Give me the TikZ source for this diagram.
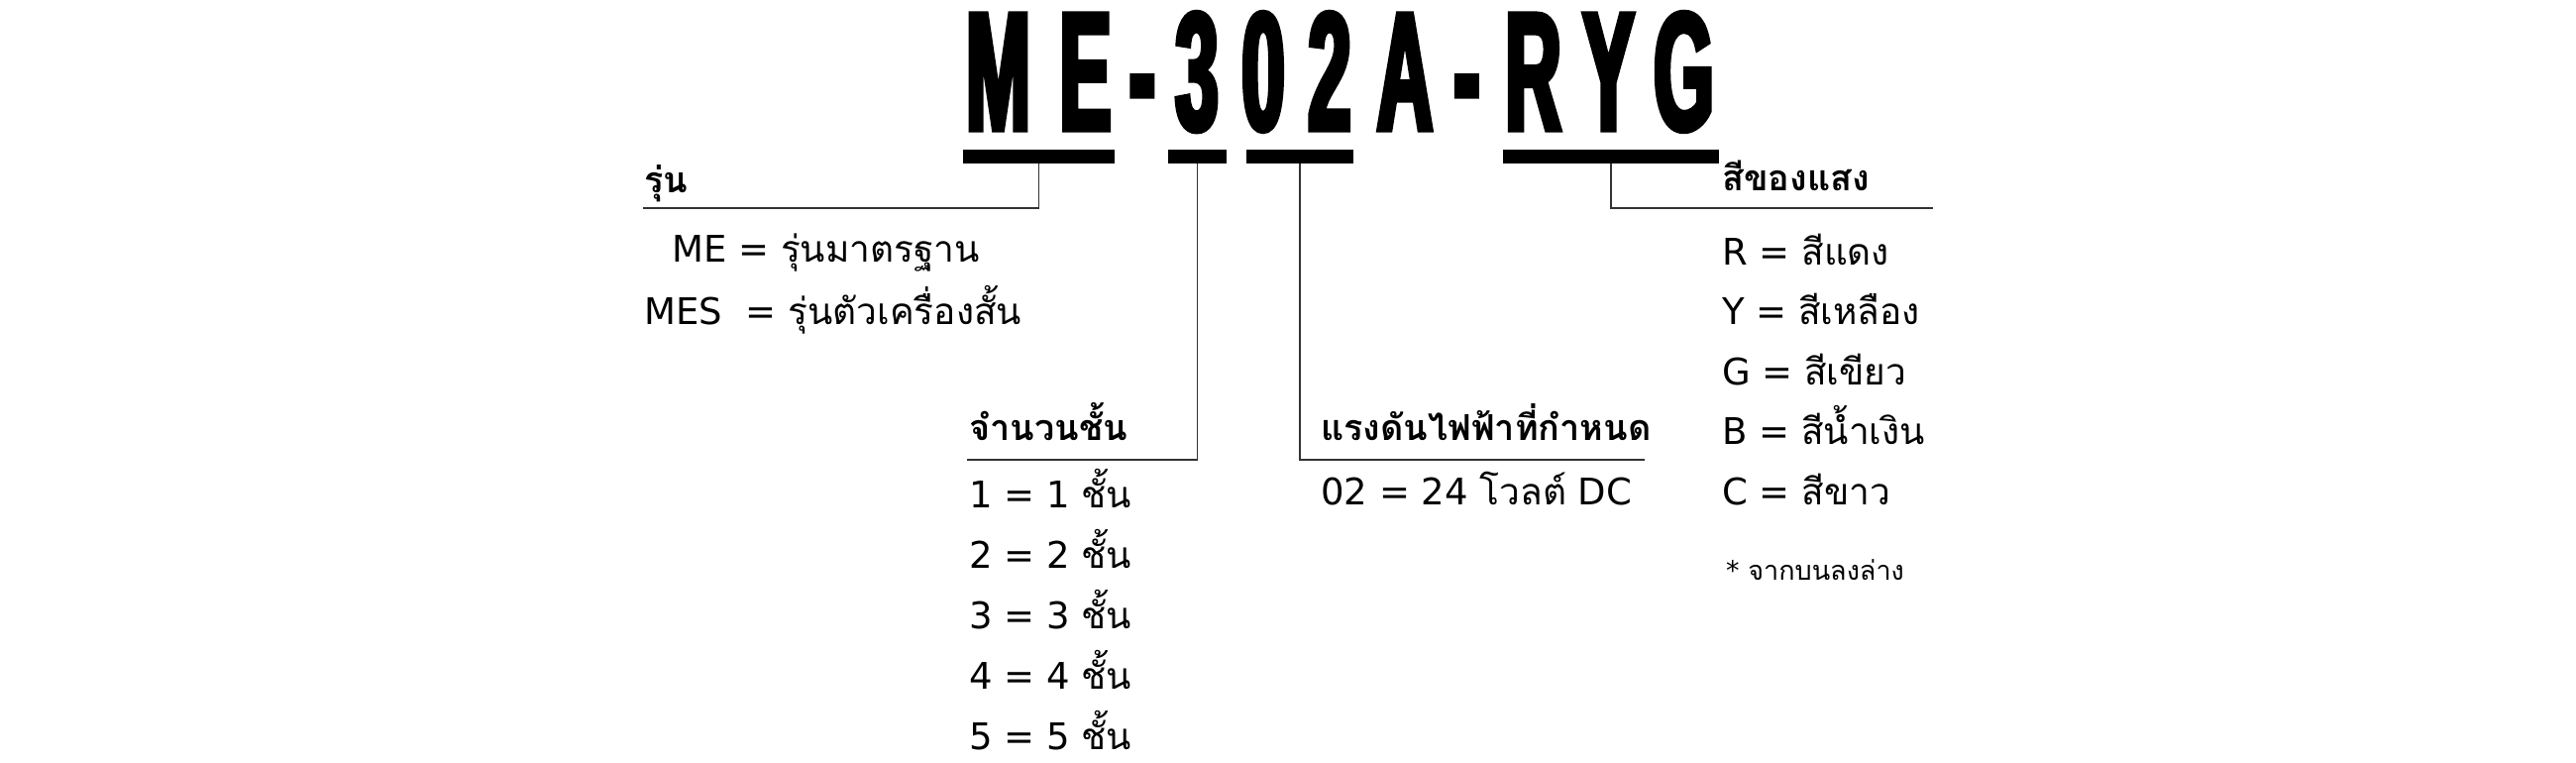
\documentclass[tikz,border=0pt]{standalone}
\usepackage{fontspec}
\setmainfont{DejaVu Sans}
\newfontfamily\thai[Script=Thai]{Loma}
\newfontfamily\codefont[FakeStretch=0.46,FakeBold=3]{Liberation Sans}
\tikzset{%
  codechar/.style = {anchor=base, inner sep=0pt,%
                     font=\codefont\bfseries\fontsize{170}{170}\selectfont},%
  bar/.style      = {fill=black, inner sep=0pt, minimum height=14},%
  lead/.style     = {draw=black!80, line width=1.6pt},%
  head/.style     = {anchor=base west, inner sep=0pt,%
                     font=\thai\bfseries\fontsize{36}{40}\selectfont},%
  item/.style     = {anchor=base west, inner sep=0pt,%
                     font=\fontsize{37}{40}\selectfont}%
}
\begin{document}
\begin{tikzpicture}[x=1pt,y=-1pt]
	\useasboundingbox (0,0) rectangle (2600,770);
	% code letters
	\foreach \ch/\cx [count=\i] in {M/1007.5,E/1095.5,-/1153,3/1208,0/1275,2/1342,A/1418,-/1480.5,R/1547.5,Y/1623.5,G/1699.5}
		\node[codechar] (c\i) at (\cx,131) {\ch};
	% model
	\node[bar, minimum width=153] (barME) at (1048.5,158) {};
	\node[head] (hdModel) at (650,195) {รุ่น};
	\coordinate (lnModel) at (649,210);
	\draw[lead] (barME.south) |- (lnModel);
	\node[item] (me) at (678,265) {ME = {\thai รุ่นมาตรฐาน}};
	\node[item] (mes) at (650,327) {MES\hspace{12pt} = {\thai รุ่นตัวเครื่องสั้น}};
	% tiers
	\node[bar, minimum width=59] (barTier) at (1208.5,158) {};
	\node[head] (hdTier) at (978,444) {จำนวนชั้น};
	\coordinate (lnTier) at (976,464);
	\draw[lead] (barTier.south) |- (lnTier);
	\foreach \n [count=\i from 0] in {1,...,5}
		\node[item] (tier\n) at (978,{512+61*\i}) {\n{} = \n{} {\thai ชั้น}};
	% voltage
	\node[bar, minimum width=108] (barVolt) at (1312,158) {};
	\node[head] (hdVolt) at (1333,444) {แรงดันไฟฟ้าที่กำหนด};
	\coordinate (lnVolt) at (1660,464);
	\draw[lead] (barVolt.south) |- (lnVolt);
	\node[item] (volt) at (1333,509) {02 = 24 {\thai โวลต์} DC};
	% colour
	\node[bar, minimum width=218] (barColor) at (1626,158) {};
	\node[head] (hdColor) at (1738,193) {สีของแสง};
	\coordinate (lnColor) at (1951,210);
	\draw[lead] (barColor.south) |- (lnColor);
	\foreach \c/\name [count=\i from 0] in {R/สีแดง,Y/สีเหลือง,G/สีเขียว,B/สีน้ำเงิน,C/สีขาว}
		\node[item] (col\c) at (1738,{267+60.5*\i}) {\c{} = {\thai\name}};
	\node[item, font=\fontsize{27}{29}\selectfont] (note) at (1742,585) {* {\thai จากบนลงล่าง}};
\end{tikzpicture}
\end{document}
